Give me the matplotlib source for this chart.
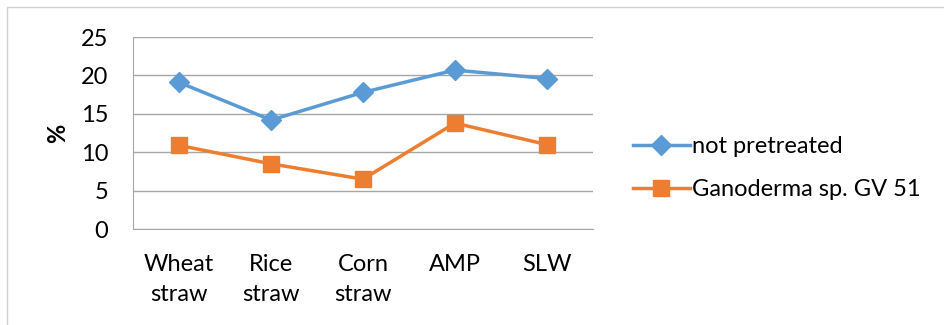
import numpy as np
import matplotlib
matplotlib.use("Agg")
import matplotlib.pyplot as plt
from matplotlib.patches import Rectangle

categories = ["Wheat\nstraw", "Rice\nstraw", "Corn\nstraw", "AMP", "SLW"]
not_pretreated = [19.1, 14.2, 17.8, 20.7, 19.6]
ganoderma = [10.9, 8.5, 6.5, 13.8, 11.0]
series_names = ["not pretreated", "Ganoderma sp. GV 51"]
yticks = [0, 5, 10, 15, 20, 25]

plt.rcParams['font.family'] = ['Lato', 'DejaVu Sans']

fig = plt.figure(figsize=(9.44, 3.25), dpi=100)
# outer chart frame
fig.patches.append(Rectangle((7 / 944, -0.05), 1.2, 1 - 7 / 325 + 0.05,
                             transform=fig.transFigure, fill=False,
                             edgecolor="#d0d0d0", linewidth=1))

ax = fig.add_axes([0.141, 0.295, 0.487, 0.591])
x = np.arange(len(categories))

ax.plot(x, not_pretreated, color="#5B9BD5", lw=2.5, marker="D", ms=10,
        label=series_names[0])
ax.plot(x, ganoderma, color="#ED7D31", lw=2.5, marker="s", ms=12,
        label=series_names[1])

ax.set_xlim(-0.5, len(categories) - 0.5)
ax.set_ylim(0, 25)
ax.set_yticks(yticks)
ax.set_xticks(x, labels=categories)
ax.yaxis.grid(True, color="#a6a6a6", lw=1)
ax.set_axisbelow(True)
for s in ["top", "right"]:
    ax.spines[s].set_visible(False)
ax.spines["left"].set_color("#a6a6a6")
ax.spines["bottom"].set_color("#a6a6a6")
ax.tick_params(axis="both", length=0, labelsize=17, colors="black")
ax.tick_params(axis="y", pad=18)
ax.tick_params(axis="x", pad=18)
for lab in ax.get_xticklabels():
    lab.set_linespacing(1.5)
ax.set_ylabel("%", fontsize=17, fontweight="bold", labelpad=8)

fig.legend(*ax.get_legend_handles_labels(), loc="center left",
           bbox_to_anchor=(633 / 944, 1 - 168 / 325), frameon=False,
           fontsize=17, handlelength=2.4, handletextpad=0.1,
           labelspacing=0.95, borderpad=0, borderaxespad=0)

fig.savefig("out.png", dpi=100)
